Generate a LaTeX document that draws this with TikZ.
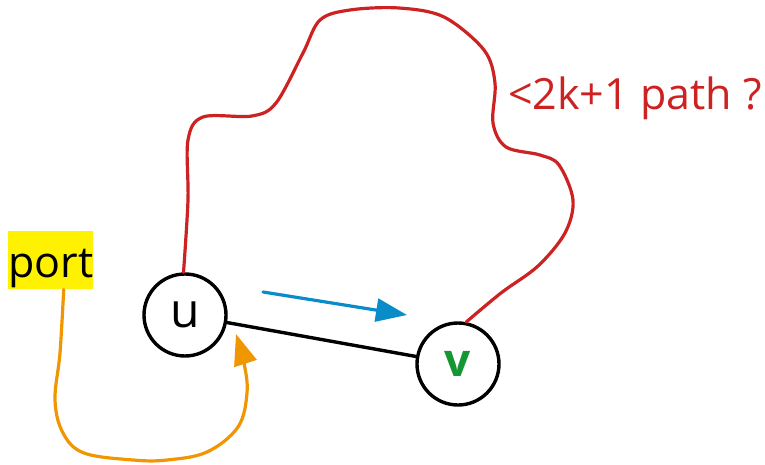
\documentclass[tikz,border=0pt]{standalone}
\usepackage{fontspec}
\setmainfont{Open Sans}
\usetikzlibrary{arrows.meta}
\definecolor{pathred}{RGB}{204,34,34}
\definecolor{portorange}{RGB}{240,150,0}
\definecolor{dirblue}{RGB}{10,140,200}
\definecolor{vgreen}{RGB}{20,150,50}
\tikzset{
  vertex/.style={circle,draw=black,line width=3.4pt,minimum size=82pt,inner sep=0pt},
  curve/.style={line width=3.2pt,line cap=round,line join=round},
  bigtip/.style={-{Triangle[length=31pt,width=23pt]}}
}
\begin{document}
\begin{tikzpicture}[x=1pt,y=-1pt]
  \useasboundingbox (0,0) rectangle (765,465);

  % vertices
  \node[vertex] (u) at (185,315) {\fontsize{48}{56}\selectfont\raisebox{-6pt}{u}};
  \node[vertex] (v) at (458,364) {\fontsize{46}{54}\selectfont\bfseries\color{vgreen}\raisebox{-5pt}{v}};

  % highlighted port label
  \node[fill=yellow,inner sep=0pt,minimum width=85pt,text height=46pt,text depth=12pt,
        anchor=north west] (port) at (8,231) {\fontsize{43}{50}\selectfont port};

  % question label
  \node[anchor=base west,inner sep=0pt,text=pathred] (q) at (508,110)
       {\fontsize{43}{50}\selectfont <2k+1 path ?};

  % edge u--v
  \draw[line width=3.4pt] (u) -- (v);

  % direction arrow
  \coordinate (b1) at (263,292);
  \coordinate (b2) at (407,315);
  \draw[curve,dirblue,bigtip] (b1) -- (b2);

  % long red path from u to v
  \draw[curve,pathred] plot[smooth,tension=0.55] coordinates {
    (u.92) (188,200) (188,140) (203,117) (252,116) (276,103) (303,53) (320,20)
    (350,10) (399,8) (444,17) (484,50) (495,83) (493,123) (506,147) (540,155)
    (559,165) (573,200) (565,233) (538,266) (501,293) (v.79)};

  % orange curve from the port back to u
  \draw[curve,portorange,bigtip] plot[smooth,tension=0.6] coordinates {
    ([xshift=13pt]port.south) (60,353) (55,400) (63,433) (84,453) (133,460)
    (167,460) (207,452) (238,427) (247,393) (244,363) (236,334)};
\end{tikzpicture}
\end{document}
